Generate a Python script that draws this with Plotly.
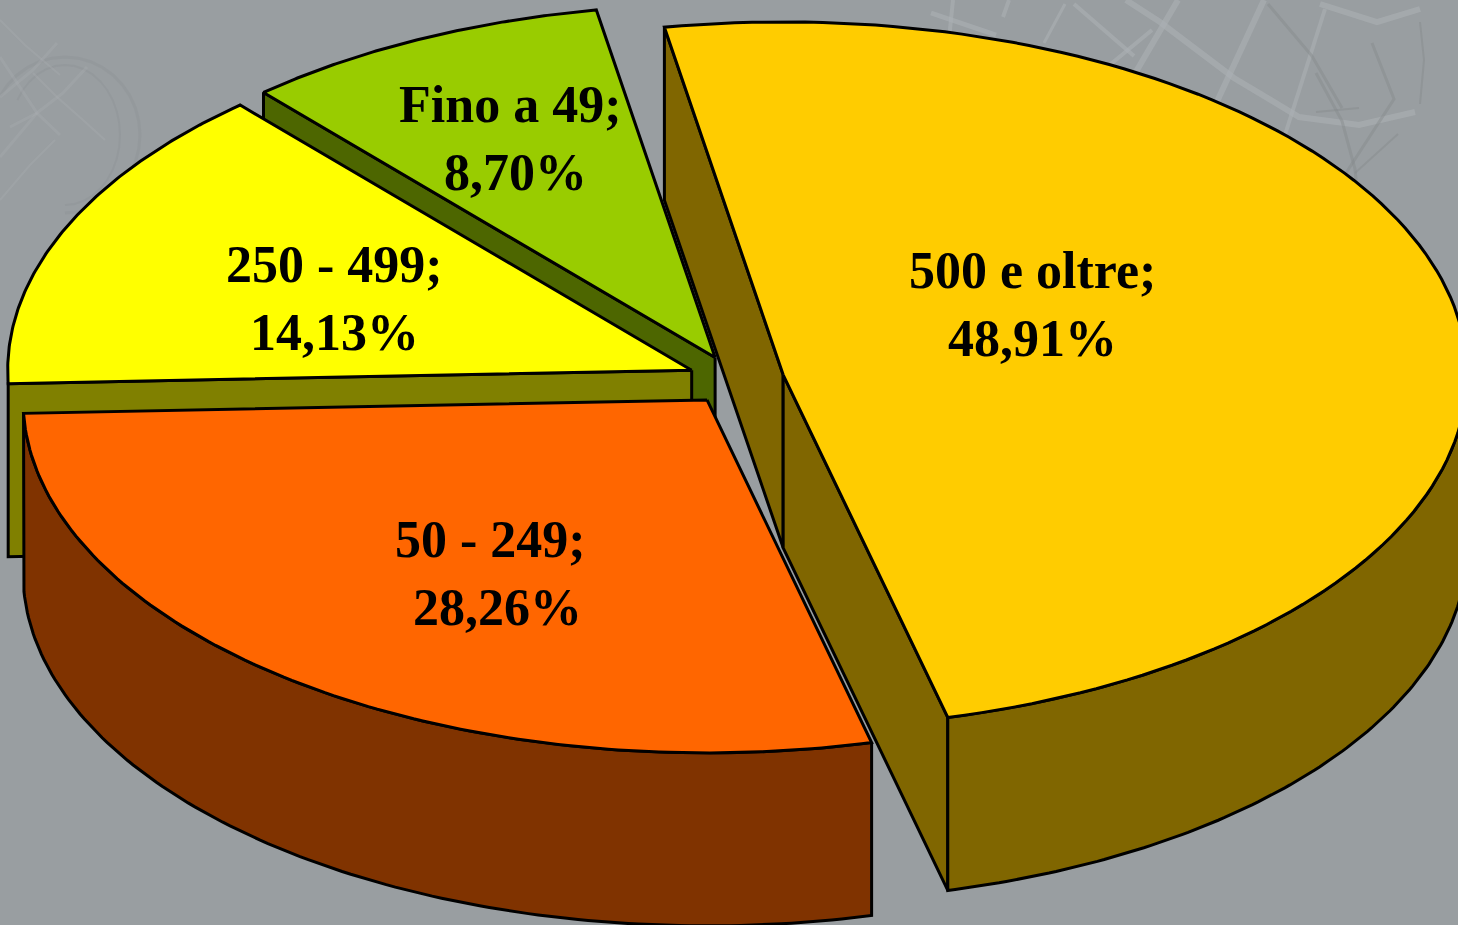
import numpy as np
import plotly.graph_objects as go

# ----------------------------------------------------------------------
# Data (in drawing order, back to front)
# ----------------------------------------------------------------------
categories = ["Fino a 49", "250 - 499", "50 - 249", "500 e oltre"]
values = [8.70, 14.13, 28.26, 48.91]
value_labels = ["8,70%", "14,13%", "28,26%", "48,91%"]

top_colors = ["#99CC00", "#FFFF00", "#FF6600", "#FFCC00"]
wall_colors = ["#4D6600", "#808000", "#803300", "#806600"]

# label centres, first line / second line
label_x = [510, 334, 490, 1032]
label_y1 = [104, 264, 539, 270]
label_y2 = [172, 332, 607, 338]
label_dx2 = [5, 0, 7, 0]

# ----------------------------------------------------------------------
# Pie projection
# ----------------------------------------------------------------------
CX, CY = 736, 380
RX, RY = 684, 353
DEPTH = 173
EXPLODE = 0.0705
FIRST_ANGLE = -10  # where "500 e oltre" starts, clockwise from top


def slice_angles():
    # order on the pie is clockwise starting from the biggest slice
    order = [3, 2, 1, 0]
    angles = {}
    start = FIRST_ANGLE
    for i in order:
        sweep = values[i] / sum(values) * 360
        angles[i] = (start, start + sweep)
        start += sweep
    return angles


def apex(t0, t1):
    mid = np.radians((t0 + t1) / 2)
    return CX + EXPLODE * RX * np.sin(mid), CY - EXPLODE * RY * np.cos(mid)


def rim(ax, ay, t0, t1, n=120):
    t = np.radians(np.linspace(t0, t1, n))
    return ax + RX * np.sin(t), ay - RY * np.cos(t)


def poly(fig, xs, ys, color):
    fig.add_trace(go.Scatter(x=list(xs), y=list(ys), mode="lines", fill="toself",
                             fillcolor=color, line=dict(color="black", width=3),
                             hoverinfo="skip", showlegend=False))


def side_face(fig, ax, ay, t, color):
    ex, ey = rim(ax, ay, t, t, 1)
    poly(fig, [ax, ex[0], ex[0], ax, ax], [ay, ey[0], ey[0] + DEPTH, ay + DEPTH, ay], color)


def outer_wall(fig, ax, ay, t0, t1, color):
    x, y = rim(ax, ay, t0, t1)
    poly(fig, np.r_[x, x[::-1], x[0]], np.r_[y, y[::-1] + DEPTH, y[0]], color)


def wire(fig, xs, ys, color, width):
    fig.add_trace(go.Scatter(x=xs, y=ys, mode="lines", line=dict(color=color, width=width),
                             hoverinfo="skip", showlegend=False))


def background_wires(fig):
    # faint wire decorations of the slide template
    pale = "rgba(172,177,180,0.6)"
    dark = "rgba(132,137,140,0.45)"
    pale_faint = "rgba(172,177,180,0.3)"
    dark_faint = "rgba(132,137,140,0.22)"

    # globe, top left
    t = np.radians(np.arange(-150, 100, 10))
    wire(fig, list(65 + 75 * np.cos(t)), list(135 + 78 * np.sin(t)), dark_faint, 3)
    wire(fig, list(65 + 55 * np.cos(t)), list(135 + 70 * np.sin(t)), dark_faint, 2)
    globe = [
        ([0, 37, 60], [57, 113, 135], 3),
        ([0, 33, 57], [97, 70, 43], 3),
        ([10, 37, 63, 87], [127, 113, 93, 67], 3),
        ([33, 57, 83, 105], [73, 97, 120, 140], 2),
        ([0, 37], [157, 113], 3),
        ([0, 25, 60], [20, 45, 75], 2),
        ([0, 30, 55], [200, 165, 140], 2),
    ]
    for xs, ys, w in globe:
        wire(fig, xs, ys, pale_faint, w)

    # wire cage, top right
    pale_lines = [
        ([1126, 1160, 1234, 1299, 1359, 1415], [0, 22, 78, 117, 125, 112], 6),
        ([1320, 1377, 1420], [4, 22, 9], 6),
        ([931, 996], [13, 35], 5),
        ([1264, 1208], [0, 121], 6),
        ([1325, 1277], [9, 160], 4),
        ([1178, 1130], [0, 82], 6),
        ([1074, 1134], [4, 56], 4),
        ([1065, 1044], [4, 43], 3),
        ([1152, 1100], [30, 73], 4),
        ([1009, 1003], [0, 17], 4),
        ([953, 949], [0, 39], 4),
    ]
    dark_lines = [
        ([1268, 1312, 1342], [4, 56, 108], 3),
        ([1372, 1394, 1346], [43, 99, 173], 3),
        ([1316, 1342, 1355, 1359], [73, 121, 169, 212], 3),
        ([1359, 1316], [108, 112], 2),
        ([1398, 1355], [134, 173], 2),
        ([1420, 1424, 1420], [22, 60, 104], 2),
    ]
    for xs, ys, w in pale_lines:
        wire(fig, xs, ys, pale, w)
    for xs, ys, w in dark_lines:
        wire(fig, xs, ys, dark, w)


fig = go.Figure()
background_wires(fig)

angles = slice_angles()
for i in range(len(categories)):
    t0, t1 = angles[i]
    ax, ay = apex(t0, t1)
    wall = wall_colors[i]
    if categories[i] == "500 e oltre":
        side_face(fig, ax, ay, t0, wall)
        side_face(fig, ax, ay, t1, wall)
        outer_wall(fig, ax, ay, 90, t1, wall)
    elif categories[i] == "50 - 249":
        outer_wall(fig, ax, ay, t0, t1, wall)
    else:
        side_face(fig, ax, ay, t0, wall)
    x, y = rim(ax, ay, t0, t1)
    poly(fig, np.r_[ax, x, ax], np.r_[ay, y, ay], top_colors[i])

font = dict(family="Liberation Serif", size=52, color="black", weight="bold")
for i in range(len(categories)):
    fig.add_annotation(x=label_x[i], y=label_y1[i], text=categories[i] + ";", showarrow=False, font=font)
    fig.add_annotation(x=label_x[i] + label_dx2[i], y=label_y2[i], text=value_labels[i], showarrow=False, font=font)

fig.update_xaxes(range=[0, 1458], visible=False, fixedrange=True)
fig.update_yaxes(range=[925, 0], visible=False, fixedrange=True)
fig.update_layout(width=1458, height=925, margin=dict(l=0, r=0, t=0, b=0),
                  plot_bgcolor="#999EA1", paper_bgcolor="#999EA1", showlegend=False)
fig.write_html("out.html", config={"displayModeBar": False},
               post_script="document.body.style.margin='0';")
